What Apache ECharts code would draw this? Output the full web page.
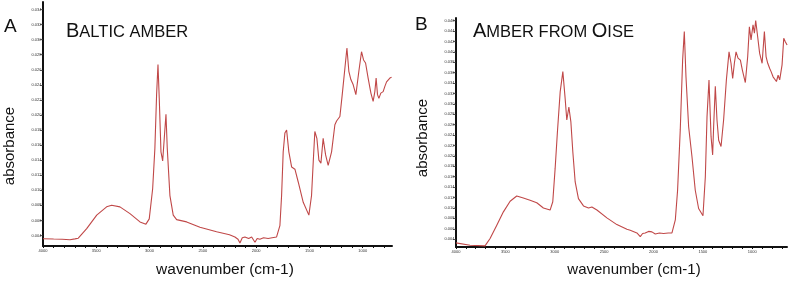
<!DOCTYPE html>
<html>
<head>
<meta charset="utf-8">
<script src="https://cdn.jsdelivr.net/npm/echarts@6/dist/echarts.min.js"></script>
<style>
html,body{margin:0;padding:0;background:#fff;}
#chart{width:793px;height:283px;}
</style>
</head>
<body>
<div id="chart"></div>
<script>
// Panel A: Baltic amber
const balticWn = [4000,3900,3820,3747,3700,3669,3590,3496,3403,3356,3278,3184,3090,3034,3003,2971,2950,2934,2921,2909,2893,2877,2862,2846,2834,2809,2778,2746,2652,2527,2371,2250,2199,2170,2152,2130,2105,2070,2042,2011,1990,1965,1930,1887,1850,1808,1777,1761,1746,1730,1714,1693,1667,1636,1605,1558,1505,1480,1464,1449,1430,1411,1392,1371,1348,1324,1292,1261,1245,1214,1192,1167,1148,1130,1111,1089,1064,1036,1011,992,973,949,923,902,886,874,861,848,830,808,792,776,761,745,729];
const balticAbs = [0.00356,0.00352,0.00350,0.00343,0.00355,0.00364,0.0049,0.0067,0.0078,0.0080,0.0078,0.0069,0.0058,0.0055,0.0062,0.0102,0.0156,0.0227,0.0267,0.0222,0.0151,0.0139,0.0169,0.0201,0.0156,0.0093,0.0067,0.0061,0.0058,0.0051,0.0045,0.0041,0.0038,0.0035,0.0030,0.0037,0.0038,0.0036,0.0038,0.0031,0.0036,0.0035,0.0037,0.0036,0.0037,0.0038,0.0053,0.0093,0.0151,0.0176,0.0180,0.0151,0.0131,0.0128,0.0111,0.0084,0.0067,0.0093,0.0138,0.0178,0.0169,0.0140,0.0136,0.0169,0.0147,0.0133,0.0151,0.0187,0.0192,0.0198,0.0227,0.0262,0.0289,0.0258,0.0247,0.0240,0.0227,0.0258,0.0284,0.0273,0.0269,0.0249,0.0229,0.0218,0.0231,0.0249,0.0227,0.0222,0.0229,0.0231,0.0238,0.0244,0.0242,0.0249,0.0250];

// Panel B: Amber from Oise
const oiseWn = [4000,3858,3706,3655,3587,3520,3452,3385,3318,3250,3182,3115,3047,3020,2996,2973,2945,2918,2895,2878,2857,2837,2817,2793,2760,2709,2658,2624,2573,2472,2371,2269,2236,2168,2150,2134,2110,2084,2050,2016,1982,1940,1898,1850,1813,1779,1756,1729,1705,1688,1671,1644,1610,1577,1543,1499,1475,1458,1438,1417,1401,1391,1374,1357,1340,1316,1290,1262,1235,1215,1198,1181,1164,1144,1120,1100,1070,1046,1029,1012,992,978,965,945,925,900,877,860,843,823,809,789,772,755,738,722,698,681,664,647];
const oiseAbs = [0.00330,0.00285,0.00271,0.00413,0.00669,0.00925,0.0113,0.0123,0.0119,0.0115,0.0110,0.0100,0.0096,0.0112,0.0176,0.0246,0.0323,0.0362,0.0311,0.0269,0.0294,0.0266,0.0208,0.0150,0.0118,0.0104,0.0100,0.0102,0.0096,0.0081,0.0068,0.0059,0.0057,0.0052,0.0050,0.0045,0.0051,0.0052,0.0055,0.0054,0.0050,0.0052,0.0051,0.0052,0.0052,0.0077,0.0134,0.0250,0.0384,0.0439,0.0352,0.0256,0.0198,0.0134,0.0099,0.0085,0.0160,0.0275,0.0346,0.0237,0.0202,0.0256,0.0334,0.0269,0.0230,0.0218,0.0269,0.0346,0.0400,0.0378,0.0349,0.0378,0.0400,0.0388,0.0384,0.0365,0.0341,0.0391,0.0448,0.0423,0.0452,0.0436,0.0460,0.0429,0.0397,0.0378,0.0439,0.0391,0.0378,0.0368,0.0362,0.0352,0.0355,0.0343,0.0355,0.0346,0.0375,0.0426,0.0419,0.0413];

// Tick labels
const xTicks = [4000,3500,3000,2500,2000,1500,1000];
const xMinorA = [4000,3900,3800,3700,3600,3500,3400,3300,3200,3100,3000,2900,2800,2700,2600,2500,2400,2300,2200,2100,2000,1900,1800,1700,1600,1500,1400,1300,1200,1100,1000,900,800];
const xMinorB = xMinorA.concat([700]);
const yTicksA = [0.004,0.006,0.008,0.010,0.012,0.014,0.016,0.018,0.020,0.022,0.024,0.026,0.028,0.030,0.032,0.034];
const yTicksB = [0.004,0.006,0.008,0.010,0.012,0.014,0.016,0.018,0.020,0.022,0.024,0.026,0.028,0.030,0.032,0.034,0.036,0.038,0.040,0.042,0.044,0.046];

const zip = (a, b) => a.map((v, i) => [v, b[i]]);
const FONT = 'Liberation Sans, Arial, Helvetica, sans-serif';
const lineColor = '#c04848';

function xAxisCfg(gi, min) {
  return {
    type: 'value', gridIndex: gi, min: min, max: 4000, inverse: true,
    axisLine: { show: true, lineStyle: { color: '#111', width: 2 } },
    axisTick: { show: true, customValues: gi === 0 ? xMinorA : xMinorB, length: 2, lineStyle: { color: '#111', width: 1 } },
    axisLabel: { customValues: xTicks, fontSize: 4, color: '#333', margin: 3, fontFamily: FONT, formatter: v => String(v) },
    splitLine: { show: false }
  };
}
function yAxisCfg(gi, min, max, ticks) {
  return {
    type: 'value', gridIndex: gi, min: min, max: max,
    axisLine: { show: true, lineStyle: { color: '#111', width: 2 } },
    axisTick: { show: true, customValues: ticks, length: 3, lineStyle: { color: '#333', width: 0.8 } },
    axisLabel: { customValues: ticks, fontSize: 4, color: '#333', margin: 1.5, fontFamily: FONT, formatter: v => v.toFixed(3) },
    splitLine: { show: false }
  };
}

const capRich = {
  a: { fontSize: 20, fontWeight: 'normal', fontFamily: FONT, color: '#111', verticalAlign: 'bottom', lineHeight: 22 },
  b: { fontSize: 16.5, fontWeight: 'normal', fontFamily: FONT, color: '#111', verticalAlign: 'bottom', lineHeight: 22 }
};

const chart = echarts.init(document.getElementById('chart'));
chart.setOption({
  backgroundColor: '#fff',
  animation: false,
  grid: [
    { left: 43, top: 2, width: 349, height: 244 },
    { left: 456, top: 18, width: 331, height: 229 }
  ],
  xAxis: [xAxisCfg(0, 725), xAxisCfg(1, 648)],
  yAxis: [yAxisCfg(0, 0.0026, 0.035, yTicksA), yAxisCfg(1, 0.0025, 0.0465, yTicksB)],
  title: [
    { left: 66, top: 19, padding: 0,
      text: '{a|B}{b|ALTIC AMBER}',
      textStyle: { fontWeight: 'normal', rich: capRich } },
    { left: 473, top: 19, padding: 0,
      text: '{a|A}{b|MBER FROM }{a|O}{b|ISE}',
      textStyle: { fontWeight: 'normal', rich: capRich } }
  ],
  graphic: [
    { type: 'text', left: 4, top: 17, style: { text: 'A', font: '19px ' + FONT, fill: '#111' } },
    { type: 'text', left: 415, top: 15, style: { text: 'B', font: '19px ' + FONT, fill: '#111' } },
    { type: 'text', x: 10, y: 146, rotation: Math.PI / 2, style: { text: 'absorbance', font: '15px ' + FONT, fill: '#111', textAlign: 'center', textVerticalAlign: 'middle' } },
    { type: 'text', x: 423, y: 138, rotation: Math.PI / 2, style: { text: 'absorbance', font: '15px ' + FONT, fill: '#111', textAlign: 'center', textVerticalAlign: 'middle' } },
    { type: 'text', x: 225, y: 270, style: { text: 'wavenumber (cm-1)', font: '15.5px ' + FONT, fill: '#111', textAlign: 'center', textVerticalAlign: 'middle' } },
    { type: 'text', x: 634, y: 270, style: { text: 'wavenumber (cm-1)', font: '15px ' + FONT, fill: '#111', textAlign: 'center', textVerticalAlign: 'middle' } }
  ],
  series: [
    { type: 'line', xAxisIndex: 0, yAxisIndex: 0, data: zip(balticWn, balticAbs), showSymbol: false, smooth: false,
      lineStyle: { color: lineColor, width: 1.1 } },
    { type: 'line', xAxisIndex: 1, yAxisIndex: 1, data: zip(oiseWn, oiseAbs), showSymbol: false, smooth: false,
      lineStyle: { color: lineColor, width: 1.1 } }
  ]
});
</script>
</body>
</html>
